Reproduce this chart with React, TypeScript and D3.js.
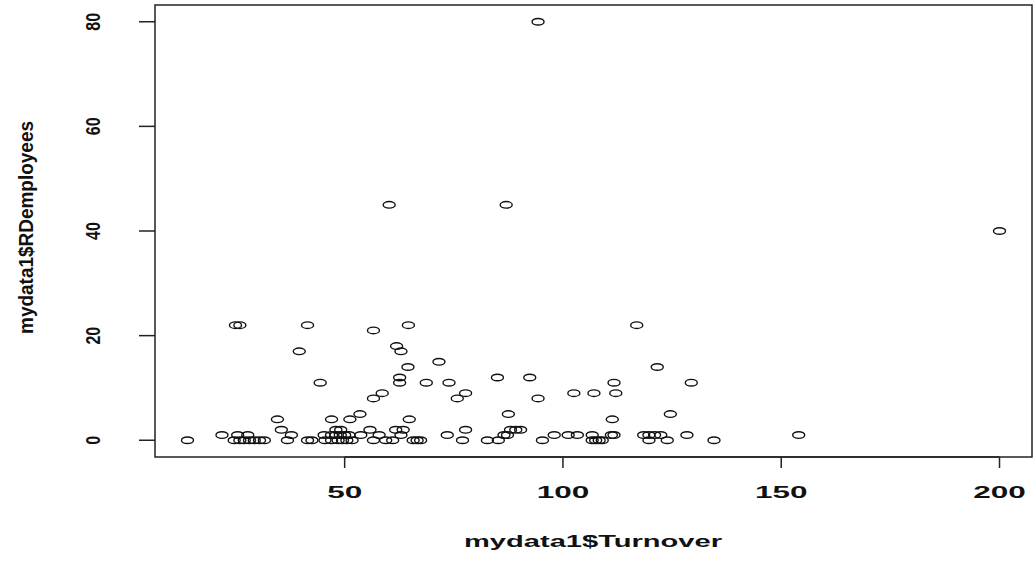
import React from "react";
import * as d3 from "d3";

const turnover: number[] = [
  94.3, 60.2, 87, 200,
  25, 26, 41.5, 64.6, 116.9,
  56.6, 61.9, 39.6, 62.9, 71.6, 64.5, 121.6,
  62.6, 85, 92.4,
  44.4, 62.6, 68.7, 73.9, 111.7, 129.4,
  58.6, 77.7, 102.5, 107.1, 112.1,
  56.6, 75.8, 94.3,
  53.5, 87.5, 124.6,
  34.6, 47, 51.2, 64.8, 111.3,
  35.5, 48, 49.1, 55.8, 61.7, 63.4, 77.7, 88, 89.2, 90.3,
  21.9, 25.5, 27.8, 37.8, 45.3, 47, 48, 49, 50, 51, 53.7, 57.9, 62.9, 73.5, 86.5, 87.3, 98, 101.2, 103.3, 106.7, 111.1, 111.7, 118.5, 119.7, 121, 122.4, 128.4, 154,
  14, 24.7, 26, 27, 28.2, 29.3, 30.5, 31.6, 36.9, 41.5, 42.5, 45.5, 47, 48.5, 49.5, 50.5, 51.7, 56.6, 59.4, 61, 65.7, 66.6, 67.4, 77, 82.7, 85.2, 95.3, 106.7, 107.5, 108.3, 109, 119.7, 123.9, 134.6,
];

const rdEmployees: number[] = [
  80, 45, 45, 40,
  22, 22, 22, 22, 22,
  21, 18, 17, 17, 15, 14, 14,
  12, 12, 12,
  11, 11, 11, 11, 11, 11,
  9, 9, 9, 9, 9,
  8, 8, 8,
  5, 5, 5,
  4, 4, 4, 4, 4,
  2, 2, 2, 2, 2, 2, 2, 2, 2, 2,
  1, 1, 1, 1, 1, 1, 1, 1, 1, 1, 1, 1, 1, 1, 1, 1, 1, 1, 1, 1, 1, 1, 1, 1, 1, 1, 1, 1,
  0, 0, 0, 0, 0, 0, 0, 0, 0, 0, 0, 0, 0, 0, 0, 0, 0, 0, 0, 0, 0, 0, 0, 0, 0, 0, 0, 0, 0, 0, 0, 0, 0, 0,
];

const xTicks: number[] = [50, 100, 150, 200];
const yTicks: number[] = [0, 20, 40, 60, 80];
const xTitle = "mydata1$Turnover";
const yTitle = "mydata1$RDemployees";

export default function App() {
  const W = 1034, H = 561;
  const left = 155, right = 1032, top = 5, bottom = 457;
  const xMin = d3.min(turnover)!, xMax = d3.max(turnover)!;
  const yMin = d3.min(rdEmployees)!, yMax = d3.max(rdEmployees)!;
  const xPad = (xMax - xMin) * 0.04, yPad = (yMax - yMin) * 0.04;
  const x = d3.scaleLinear().domain([xMin - xPad, xMax + xPad]).range([left, right]);
  const y = d3.scaleLinear().domain([yMin - yPad, yMax + yPad]).range([bottom, top]);
  const font = "'Liberation Sans', Arial, sans-serif";
  const pts = turnover.map((t, i) => [t, rdEmployees[i]]);
  return (
    <svg width={W} height={H} style={{ position: "absolute", left: 0, top: 0, background: "#fff" }}>
      <rect x={left} y={top} width={right - left} height={bottom - top} fill="none" stroke="#222" strokeWidth={1.5} />
      {/* x axis */}
      <line x1={x(xTicks[0])} x2={x(xTicks[xTicks.length - 1])} y1={bottom} y2={bottom} stroke="#222" strokeWidth={1.5} />
      {xTicks.map((t) => (
        <g key={"xt" + t}>
          <line x1={x(t)} x2={x(t)} y1={bottom} y2={bottom + 11} stroke="#222" strokeWidth={1.5} />
          <text x={x(t)} y={498} textAnchor="middle" fontFamily={font} fontWeight="bold" fontSize={16}
            textLength={String(t).length * 17.5} lengthAdjust="spacingAndGlyphs" fill="#111">{t}</text>
        </g>
      ))}
      {/* y axis */}
      {yTicks.map((t) => (
        <g key={"yt" + t}>
          <line x1={left - 16} x2={left} y1={y(t)} y2={y(t)} stroke="#222" strokeWidth={1.5} />
          <text transform={`translate(100,${y(t)}) rotate(-90) scale(1,1.3)`} textAnchor="middle"
            fontFamily={font} fontWeight="bold" fontSize={16} fill="#111">{t}</text>
        </g>
      ))}
      <text x={593} y={547} textAnchor="middle" fontFamily={font} fontWeight="bold" fontSize={17}
        textLength={258} lengthAdjust="spacingAndGlyphs" fill="#111">{xTitle}</text>
      <text transform={`translate(33,${(121 + 334) / 2}) rotate(-90) scale(1,1.3)`} textAnchor="middle"
        fontFamily={font} fontWeight="bold" fontSize={16} textLength={213} lengthAdjust="spacingAndGlyphs"
        fill="#111">{yTitle}</text>
      {pts.map(([a, b], i) => (
        <ellipse key={i} cx={x(a)} cy={y(b)} rx={6} ry={3.3} fill="none" stroke="#111" strokeWidth={1.4} />
      ))}
    </svg>
  );
}
